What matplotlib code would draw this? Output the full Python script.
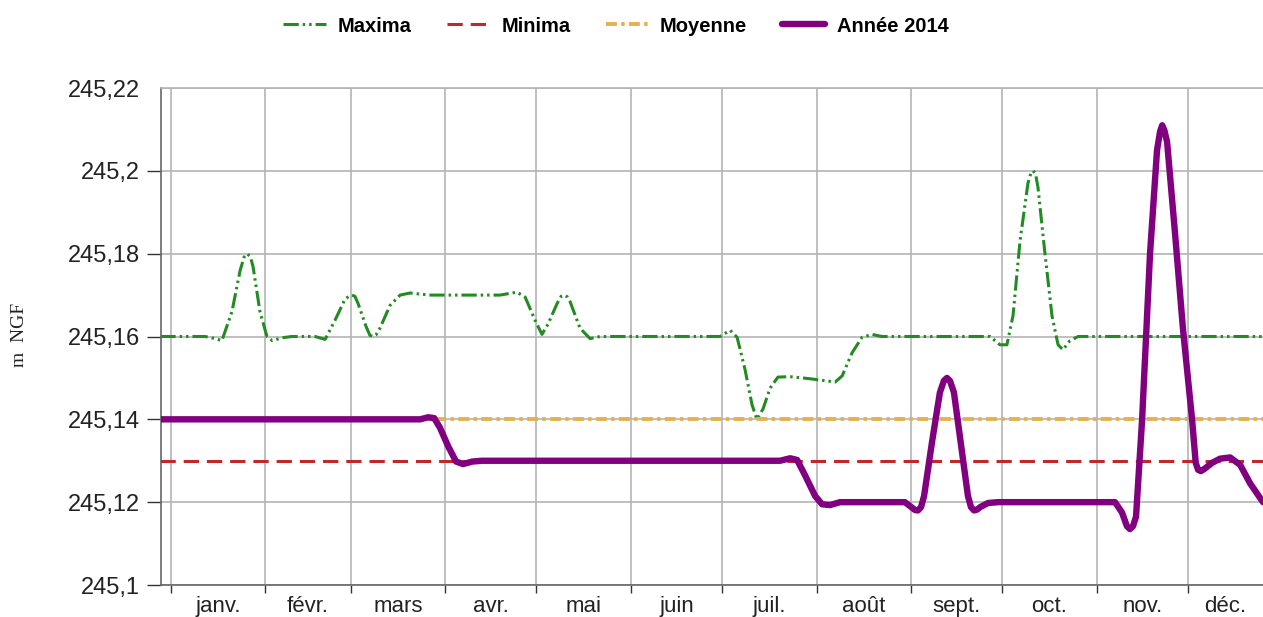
import matplotlib
matplotlib.use("Agg")
import matplotlib.pyplot as plt
from matplotlib.ticker import FixedLocator, FuncFormatter

plt.rcParams['font.family'] = ['Liberation Sans', 'DejaVu Sans']

# jour de l'année (0 = 1er janvier) et cote en m NGF
max_jour = [-3.5, 11.2, 14.4, 16.7, 20, 22.7, 24, 25, 26, 26.9, 29.2, 31.5, 33.2, 36.5, 39.7,
            47.3, 50.6, 53.9, 57.1, 58.4, 59.4, 60.4, 61.4, 64, 65.3, 66.3, 67.3, 68.6,
            71.9, 75.2, 78.5, 85, 108, 113.6, 116.3, 119.5, 121.8, 123.8, 126.8, 128.1,
            129.1, 130.1, 131, 134.3, 137.6, 140.9, 180.3, 183.6, 185.9, 188.5, 190.8,
            192.4, 194.4, 196.7, 199.3, 203.3, 209.9, 218.1, 220.4, 223.6, 226.9, 230.2,
            233.5, 269, 272.2, 274.5, 276.5, 278.8, 281.4, 282.3, 283.1, 283.9, 284.7,
            287, 289.3, 291.3, 292.9, 295.2, 297.9, 362]
max_cote = [245.16, 245.16, 245.1595, 245.159, 245.166, 245.176, 245.1792, 245.18, 245.1793,
            245.177, 245.166, 245.16, 245.159, 245.1597, 245.16, 245.16, 245.1593, 245.164,
            245.169, 245.1697, 245.17, 245.1697, 245.168, 245.1625, 245.1603, 245.16,
            245.1604, 245.162, 245.1675, 245.17, 245.1705, 245.17, 245.17, 245.1707,
            245.1695, 245.164, 245.1605, 245.163, 245.168, 245.1697, 245.17, 245.1696,
            245.1685, 245.162, 245.1595, 245.16, 245.16, 245.1615, 245.1598, 245.152,
            245.1435, 245.14, 245.1425, 245.1475, 245.1502, 245.1503, 245.1498, 245.149,
            245.1505, 245.156, 245.1598, 245.1605, 245.16, 245.16, 245.158, 245.158,
            245.165, 245.183, 245.197, 245.1993, 245.2, 245.1993, 245.196, 245.18,
            245.165, 245.158, 245.1568, 245.159, 245.16, 245.16]

min_jour = [-3.5, 362]
min_cote = [245.13, 245.13]

moy_jour = [-3.5, 362]
moy_cote = [245.14, 245.14]

an_jour = [-3.5, 81.8, 84.4, 86.4, 88.3, 91, 93.6, 95.9, 98.9, 102.1, 200, 203.3,
           205.6, 208.2, 211.5, 213.8, 216.4, 219.7, 241, 243.3, 244.3, 245.3, 246.3,
           247.3, 249.9, 252.5, 253.8, 254.8, 255.8, 257.1, 259.4, 261.7, 262.7, 263.7,
           264.7, 265.7, 268.3, 271.6, 310, 312.3, 313.9, 314.9, 315.9, 316.9, 318.9,
           321.5, 323.8, 324.8, 325.5, 326.2, 327.1, 329.7, 332.3, 335.3, 336.5, 337.3,
           338.2, 339.3, 341.9, 344.5, 347.8, 351.1, 354.4, 358.6]
an_cote = [245.14, 245.14, 245.1405, 245.1403, 245.138, 245.1335, 245.1298, 245.1292,
           245.1298, 245.13, 245.13, 245.1306, 245.1302, 245.1265, 245.1215, 245.1195,
           245.1193, 245.12, 245.12, 245.1187, 245.1181, 245.118, 245.1188, 245.1215,
           245.1345, 245.1465, 245.1493, 245.15, 245.1493, 245.1465, 245.134, 245.1215,
           245.1188, 245.118, 245.1182, 245.1188, 245.1198, 245.12, 245.12, 245.1175,
           245.1142, 245.1135, 245.1142, 245.1165, 245.14, 245.18, 245.205, 245.2095,
           245.211, 245.2098, 245.207, 245.185, 245.162, 245.14, 245.1295, 245.1278,
           245.1275, 245.128, 245.1295, 245.1305, 245.1308, 245.129, 245.1245, 245.12]

mois = ['janv.', 'févr.', 'mars', 'avr.', 'mai', 'juin', 'juil.', 'août',
        'sept.', 'oct.', 'nov.', 'déc.']
debut_mois = [0, 31, 59, 90, 120, 151, 181, 212, 243, 273, 304, 334, 365]
y_ticks = [245.1, 245.12, 245.14, 245.16, 245.18, 245.2, 245.22]

x_min, x_max = -3.3, 358.6

fig = plt.figure(figsize=(12.63, 6.17), dpi=100)
ax = fig.add_axes([161 / 1263, 1 - 585 / 617, 1 - 161 / 1263, (585 - 88) / 617])

l_max, = ax.plot(max_jour, max_cote, color='#228b22', lw=2.2,
                 dashes=(5, 1.3, 0.8, 1.3, 0.8, 1.3), label='Maxima', zorder=3)
l_min, = ax.plot(min_jour, min_cote, color='#c0282a', lw=2.2,
                 dashes=(5, 2.6), label='Minima', zorder=3)
l_moy, = ax.plot(moy_jour, moy_cote, color='#e6b050', lw=2.8,
                 dashes=(2.8, 1.1, 0.9, 1.1), label='Moyenne', zorder=3)
l_an, = ax.plot(an_jour, an_cote, color='#800080', lw=4.6,
                solid_joinstyle='round', solid_capstyle='round',
                label='Année 2014', zorder=4)

ax.set_xlim(x_min, x_max)
ax.set_ylim(245.1, 245.22)

# ticks des mois : traits aux débuts de mois, libellés au milieu de la partie visible
ax.xaxis.set_major_locator(FixedLocator(debut_mois[:-1]))
ax.xaxis.set_major_formatter(FuncFormatter(lambda v, p: ''))
centres = [(max(a, x_min) + min(b, x_max)) / 2 for a, b in zip(debut_mois[:-1], debut_mois[1:])]
ax.xaxis.set_minor_locator(FixedLocator(centres))
ax.xaxis.set_minor_formatter(FuncFormatter(lambda v, p: mois[p] if p is not None and p < len(mois) else ''))
ax.tick_params(axis='x', which='major', length=6, width=1, color='#333333')
ax.tick_params(axis='x', which='minor', length=0, pad=8, labelsize=16, labelcolor='#222222')

ax.yaxis.set_major_locator(FixedLocator(y_ticks))
ax.yaxis.set_major_formatter(FuncFormatter(lambda v, p: f"{round(v, 2):g}".replace('.', ',')))
ax.tick_params(axis='y', length=10, width=1, color='#333333', pad=5,
               labelsize=17, labelcolor='#222222')
ax.yaxis.get_major_ticks()[-1].tick1line.set_visible(False)

ax.grid(True, axis='x', which='major', color='#b4b4b4', lw=1.2, zorder=1)
ax.grid(True, axis='y', color='#b4b4b4', lw=1.2, zorder=1)
ax.set_axisbelow(True)

for s in ['left', 'bottom']:
    ax.spines[s].set_color('#666666')
    ax.spines[s].set_linewidth(1.2)
ax.spines['top'].set_color('#b4b4b4')
ax.spines['top'].set_linewidth(1.2)
ax.spines['right'].set_visible(False)

fig.text(20 / 1263, 1 - 335 / 617, 'm  NGF', rotation=90, ha='center', va='center',
         fontsize=14, family=['Liberation Serif', 'DejaVu Serif'], color='#222222')

fig.legend(handles=[l_max, l_min, l_moy, l_an], loc='center',
           bbox_to_anchor=(616 / 1263, 1 - 26 / 617), ncol=4, frameon=False,
           prop={'weight': 'bold', 'size': 14.5}, handlelength=2.1,
           handletextpad=0.6, columnspacing=1.75)

fig.savefig('out.png', dpi=100)
